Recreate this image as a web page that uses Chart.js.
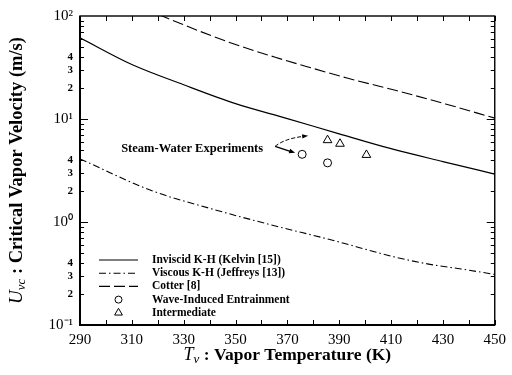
<!DOCTYPE html>
<html><head><meta charset="utf-8">
<script src="https://cdn.jsdelivr.net/npm/chart.js@4.4.1/dist/chart.umd.min.js"></script>
<style>html,body{margin:0;padding:0;background:#fff}canvas{display:block}</style>
</head><body>
<canvas id="c" width="512" height="375"></canvas>
<script>
// ---- data ----
const inviscidT = [290, 310, 330, 350, 370, 390, 410, 430, 450];
const inviscidV = [61.4, 33.8, 21.5, 14.1, 10.1, 7.18, 5.15, 3.86, 2.92];
const viscousT = [290, 318, 339.5, 365, 386, 412, 424.5, 437, 450];
const viscousV = [4.1, 2.0, 1.37, 0.92, 0.68, 0.454, 0.39, 0.35, 0.31];
const cotterT = [320.5, 329, 348, 365, 378, 393, 412, 431, 450];
const cotterV = [103, 84, 55, 40, 32, 25, 18.9, 14.0, 10.2];
const waveT = [375.7, 385.5];
const waveV = [4.54, 3.75];
const interT = [385.5, 390.3, 400.5];
const interV = [6.23, 5.75, 4.48];
const xTicks = [290, 310, 330, 350, 370, 390, 410, 430, 450];
const yTickValues = [0.1, 0.2, 0.3, 0.4, 1, 2, 3, 4, 10, 20, 30, 40, 100];
const yTickLabels = ['10⁻¹', '2', '3', '4', '10⁰', '2', '3', '4', '10¹', '2', '3', '4', '10²'];
const seriesNames = ['Inviscid K-H (Kelvin [15])', 'Viscous K-H (Jeffreys [13])', 'Cotter [8]', 'Wave-Induced Entrainment', 'Intermediate'];
const annotationText = 'Steam-Water Experiments';
const xTitle = [['T', 'italic 18px "Liberation Serif"', 0], ['ν', 'italic 13px "Liberation Serif"', 3], [' : Vapor Temperature (K)', 'bold 17.5px "Liberation Serif"', 0]];
const yTitle = [['U', 'italic 19px "Liberation Serif"', 0], ['vc', 'italic 13px "Liberation Serif"', 3], [' : Critical Vapor Velocity (m/s)', 'bold 18.5px "Liberation Serif"', 0]];

const FAM = '"Liberation Serif", "Times New Roman", serif';
const pts = (xs, ys) => xs.map((x, i) => ({x: x, y: ys[i]}));

function drawRich(ctx, parts, cx, baseY) {
  let w = 0;
  parts.forEach(p => { ctx.font = p[1]; w += ctx.measureText(p[0]).width; });
  let x = cx - w / 2;
  ctx.textAlign = 'left'; ctx.textBaseline = 'alphabetic';
  parts.forEach(p => { ctx.font = p[1]; ctx.fillText(p[0], x, baseY + p[2]); x += ctx.measureText(p[0]).width; });
}
function arrowHead(ctx, x, y, ang, len, hw) {
  ctx.save(); ctx.setLineDash([]);
  ctx.beginPath();
  ctx.moveTo(x, y);
  ctx.lineTo(x - len * Math.cos(ang) - hw * Math.sin(ang), y - len * Math.sin(ang) + hw * Math.cos(ang));
  ctx.lineTo(x - len * Math.cos(ang) + hw * Math.sin(ang), y - len * Math.sin(ang) - hw * Math.cos(ang));
  ctx.closePath(); ctx.fill(); ctx.restore();
}

const deco = {
  id: 'deco',
  afterDatasetsDraw(chart) {
    const ctx = chart.ctx, a = chart.chartArea, xs = chart.scales.x, ys = chart.scales.y;
    ctx.save();
    ctx.strokeStyle = '#000'; ctx.fillStyle = '#000'; ctx.setLineDash([]);
    // frame
    ctx.lineWidth = 1.4;
    ctx.strokeRect(a.left, a.top, a.right - a.left, a.bottom - a.top);
    ctx.lineWidth = 2;
    ctx.beginPath(); ctx.moveTo(a.left, a.top); ctx.lineTo(a.left, a.bottom); ctx.lineTo(a.right, a.bottom); ctx.stroke();
    // ticks
    ctx.lineWidth = 1;
    ctx.beginPath();
    for (let e = -1; e <= 1; e++) {
      for (let k = 1; k <= 9; k++) {
        const py = Math.round(ys.getPixelForValue(k * Math.pow(10, e))) + 0.5;
        const L = k === 1 ? 8 : 4;
        ctx.moveTo(a.left, py); ctx.lineTo(a.left + L, py);
        ctx.moveTo(a.right, py); ctx.lineTo(a.right - L, py);
      }
    }
    for (let t = 290; t <= 450; t += 10) {
      const px = Math.round(xs.getPixelForValue(t)) + 0.5;
      const L = 5;
      ctx.moveTo(px, a.bottom); ctx.lineTo(px, a.bottom - L);
      ctx.moveTo(px, a.top); ctx.lineTo(px, a.top + L);
    }
    ctx.stroke();

    // legend
    const lx = a.left + 19, lw = 39, tx = a.left + 72;
    chart.data.datasets.forEach((ds, i) => {
      const yy = a.top + 244 + i * 13.2;
      if (ds.showLine) {
        ctx.setLineDash(ds.borderDash || []);
        ctx.lineWidth = ds.borderWidth;
        ctx.beginPath(); ctx.moveTo(lx, yy); ctx.lineTo(lx + lw, yy); ctx.stroke();
        ctx.setLineDash([]);
      } else {
        ctx.fillStyle = '#fff'; ctx.strokeStyle = '#000'; ctx.lineWidth = 1;
        Chart.helpers.drawPoint(ctx, {pointStyle: ds.pointStyle, radius: ds.pointRadius - 0.5, borderWidth: 1, rotation: 0}, lx + lw / 2, yy);
      }
      ctx.fillStyle = '#000';
      ctx.font = 'bold 11.5px ' + FAM;
      ctx.textAlign = 'left'; ctx.textBaseline = 'middle';
      ctx.fillText(ds.label, tx, yy);
    });

    // annotation
    const cx = xs.getPixelForValue(waveT[0]), cy = ys.getPixelForValue(waveV[0]);
    ctx.font = 'bold 12.5px ' + FAM;
    ctx.textAlign = 'right'; ctx.textBaseline = 'middle';
    ctx.fillText(annotationText, cx - 39, cy - 5.5);
    const sx = cx - 27, sy = cy - 8;
    ctx.lineWidth = 1;
    ctx.setLineDash([4, 2]);
    ctx.beginPath(); ctx.moveTo(sx, sy); ctx.quadraticCurveTo(sx + 10, sy - 8, sx + 29, sy - 10); ctx.stroke();
    arrowHead(ctx, sx + 33, sy - 10.5, -0.1, 6, 2.2);
    ctx.setLineDash([]);
    ctx.lineWidth = 1.3;
    ctx.beginPath(); ctx.moveTo(sx, sy); ctx.quadraticCurveTo(sx + 6, sy + 2, sx + 15, sy + 5); ctx.stroke();
    arrowHead(ctx, sx + 20, sy + 6.5, 0.3, 6, 2.4);

    // axis titles
    ctx.fillStyle = '#000';
    drawRich(ctx, xTitle, (a.left + a.right) / 2, 360);
    ctx.save();
    ctx.translate(16, (a.top + a.bottom) / 2);
    ctx.rotate(-Math.PI / 2);
    drawRich(ctx, yTitle, 0, 6);
    ctx.restore();
    ctx.restore();
  }
};

new Chart(document.getElementById('c'), {
  type: 'scatter',
  data: {
    datasets: [
      {label: seriesNames[0], data: pts(inviscidT, inviscidV), showLine: true, borderColor: '#000', borderWidth: 1.2, pointRadius: 0, cubicInterpolationMode: 'monotone', fill: false},
      {label: seriesNames[1], data: pts(viscousT, viscousV), showLine: true, borderColor: '#000', borderWidth: 1.1, borderDash: [7, 3, 1.5, 3], pointRadius: 0, cubicInterpolationMode: 'monotone', fill: false},
      {label: seriesNames[2], data: pts(cotterT, cotterV), showLine: true, borderColor: '#000', borderWidth: 1.1, borderDash: [11, 4], pointRadius: 0, cubicInterpolationMode: 'monotone', fill: false},
      {label: seriesNames[3], data: pts(waveT, waveV), showLine: false, pointStyle: 'circle', pointRadius: 4, pointBackgroundColor: '#fff', pointBorderColor: '#000', pointBorderWidth: 1, borderColor: '#000', backgroundColor: '#fff'},
      {label: seriesNames[4], data: pts(interT, interV), showLine: false, pointStyle: 'triangle', pointRadius: 5, pointBackgroundColor: '#fff', pointBorderColor: '#000', pointBorderWidth: 1, borderColor: '#000', backgroundColor: '#fff'}
    ]
  },
  options: {
    responsive: false, animation: false, devicePixelRatio: 1,
    layout: {padding: {top: 13, right: 12, left: 0, bottom: 0}},
    plugins: {legend: {display: false}, tooltip: {enabled: false}},
    scales: {
      x: {
        type: 'linear', min: 290, max: 450,
        afterBuildTicks: s => { s.ticks = xTicks.map(v => ({value: v})); },
        ticks: {font: {family: FAM, size: 15}, color: '#000', padding: 6, maxRotation: 0, autoSkip: false},
        grid: {display: false, drawTicks: false}, border: {display: false},
        afterFit: s => { s.height = 50; }
      },
      y: {
        type: 'logarithmic', min: 0.1, max: 100,
        afterBuildTicks: s => { s.ticks = yTickValues.map(v => ({value: v})); },
        ticks: {
          callback: (v, i) => yTickLabels[i],
          font: c => (yTickLabels[c.index] || '').length > 1 ? {family: FAM, size: 15} : {family: FAM, size: 11, weight: 'bold'},
          color: '#000', padding: 7, autoSkip: false
        },
        grid: {display: false, drawTicks: false}, border: {display: false},
        afterFit: s => { s.width = 80; }
      }
    }
  },
  plugins: [deco]
});
</script>
</body></html>
